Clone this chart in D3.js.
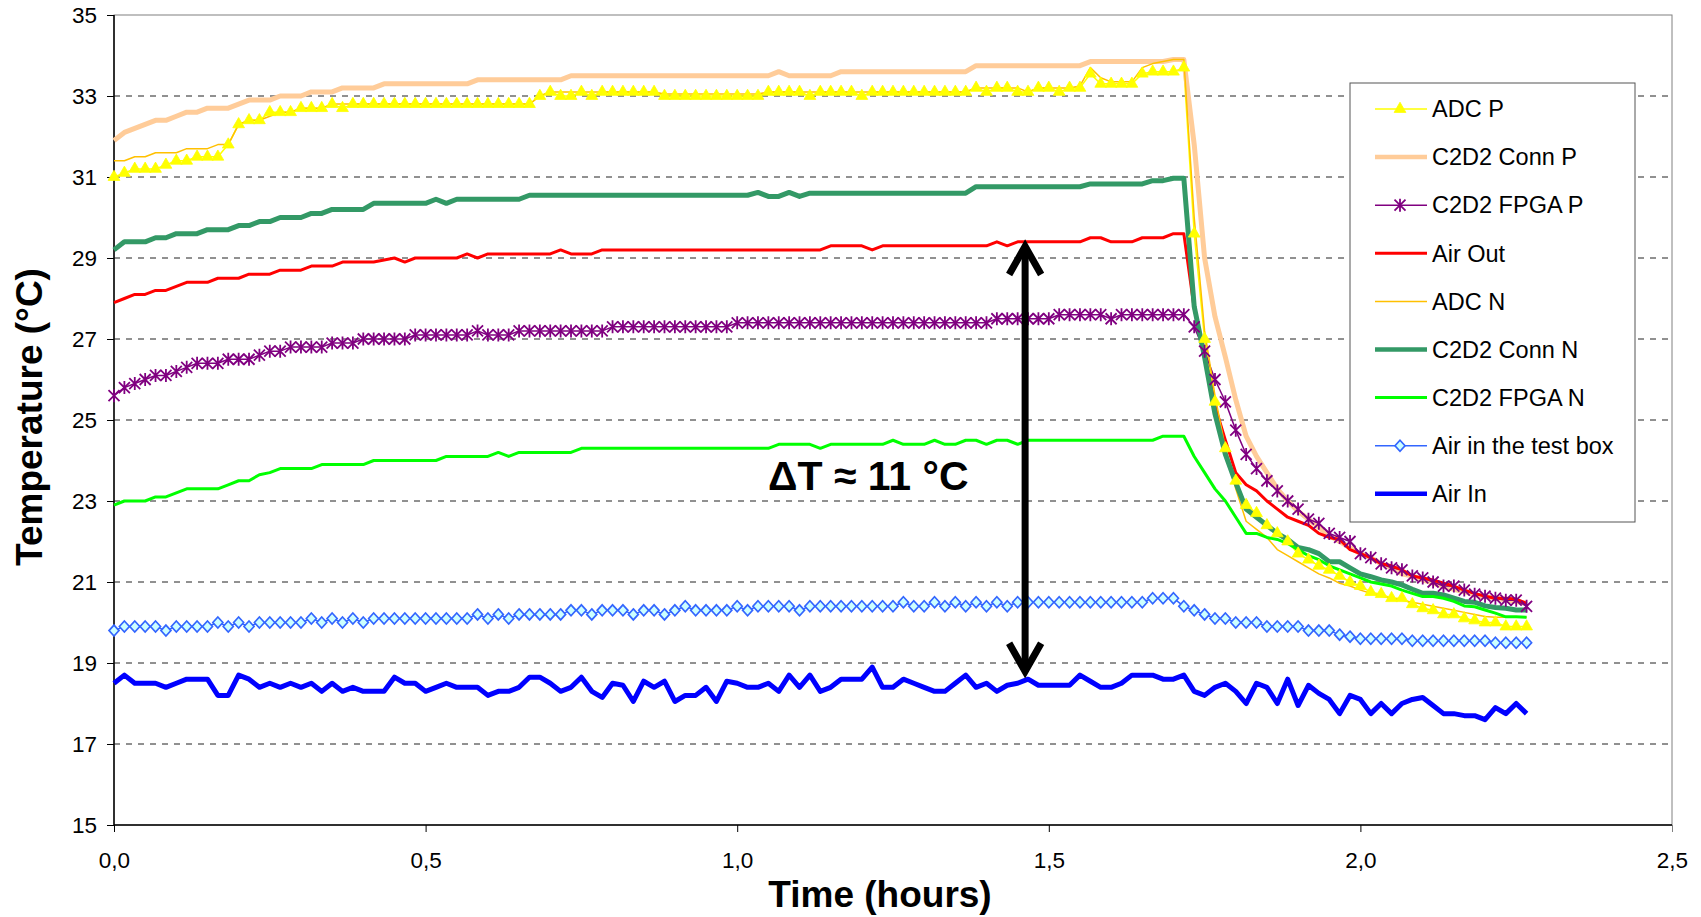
<!DOCTYPE html>
<html>
<head>
<meta charset="utf-8">
<script src="https://cdn.jsdelivr.net/npm/d3@7"></script>
<style>
  html, body { margin: 0; padding: 0; background: #fff; }
  svg { display: block; font-family: "Liberation Sans", Arial, sans-serif; }
</style>
</head>
<body>
<svg id="chart" width="1701" height="917"></svg>
<script>
// one reading per minute, 0 .. 136 min, plotted in hours
const minutes = d3.range(0, 137);
const hours = minutes.map(m => m / 60);

const adcP = [
  31.0,31.1,31.2,31.2,31.2,31.3,31.4,31.4,31.5,31.5,
  31.5,31.8,32.3,32.4,32.4,32.6,32.6,32.6,32.7,32.7,
  32.7,32.8,32.7,32.8,32.8,32.8,32.8,32.8,32.8,32.8,
  32.8,32.8,32.8,32.8,32.8,32.8,32.8,32.8,32.8,32.8,
  32.8,33.0,33.1,33.0,33.0,33.1,33.0,33.1,33.1,33.1,
  33.1,33.1,33.1,33.0,33.0,33.0,33.0,33.0,33.0,33.0,
  33.0,33.0,33.0,33.1,33.1,33.1,33.1,33.0,33.1,33.1,
  33.1,33.1,33.0,33.1,33.1,33.1,33.1,33.1,33.1,33.1,
  33.1,33.1,33.1,33.2,33.1,33.2,33.2,33.1,33.1,33.2,
  33.2,33.1,33.2,33.2,33.55,33.3,33.3,33.3,33.3,33.55,
  33.6,33.6,33.6,33.7,29.6,27.0,25.45,24.3,23.5,22.9,
  22.7,22.4,22.2,22.0,21.7,21.55,21.4,21.3,21.15,21.0,
  20.9,20.75,20.7,20.6,20.6,20.45,20.35,20.3,20.2,20.2,
  20.1,20.05,20.0,20.0,19.9,19.9,19.9
];

const connP = [
  31.9,32.1,32.2,32.3,32.4,32.4,32.5,32.6,32.6,32.7,
  32.7,32.7,32.8,32.9,32.9,32.9,33.0,33.0,33.0,33.1,
  33.1,33.1,33.2,33.2,33.2,33.2,33.3,33.3,33.3,33.3,
  33.3,33.3,33.3,33.3,33.3,33.4,33.4,33.4,33.4,33.4,
  33.4,33.4,33.4,33.4,33.5,33.5,33.5,33.5,33.5,33.5,
  33.5,33.5,33.5,33.5,33.5,33.5,33.5,33.5,33.5,33.5,
  33.5,33.5,33.5,33.5,33.6,33.5,33.5,33.5,33.5,33.5,
  33.6,33.6,33.6,33.6,33.6,33.6,33.6,33.6,33.6,33.6,
  33.6,33.6,33.6,33.75,33.75,33.75,33.75,33.75,33.75,33.75,
  33.75,33.75,33.75,33.75,33.85,33.85,33.85,33.85,33.85,33.85,
  33.85,33.85,33.9,33.9,31.8,29.0,27.55,26.55,25.5,24.6,
  24.1,23.7,23.3,23.0,22.75,22.55,22.35,22.15,22.0,21.85,
  21.7,21.6,21.45,21.35,21.2,21.15,21.05,20.97,20.9,20.82,
  20.76,20.68,20.64,20.6,20.56,20.52,20.47
];

const fpgaP = [
  25.6,25.8,25.9,26.0,26.1,26.1,26.2,26.3,26.4,26.4,
  26.4,26.5,26.5,26.5,26.6,26.7,26.7,26.8,26.8,26.8,
  26.8,26.9,26.9,26.9,27.0,27.0,27.0,27.0,27.0,27.1,
  27.1,27.1,27.1,27.1,27.1,27.2,27.1,27.1,27.1,27.2,
  27.2,27.2,27.2,27.2,27.2,27.2,27.2,27.2,27.3,27.3,
  27.3,27.3,27.3,27.3,27.3,27.3,27.3,27.3,27.3,27.3,
  27.4,27.4,27.4,27.4,27.4,27.4,27.4,27.4,27.4,27.4,
  27.4,27.4,27.4,27.4,27.4,27.4,27.4,27.4,27.4,27.4,
  27.4,27.4,27.4,27.4,27.4,27.5,27.5,27.5,27.5,27.5,
  27.5,27.6,27.6,27.6,27.6,27.6,27.5,27.6,27.6,27.6,
  27.6,27.6,27.6,27.6,27.3,26.7,26.0,25.45,24.75,24.15,
  23.8,23.5,23.25,23.0,22.8,22.55,22.45,22.2,22.1,22.0,
  21.7,21.6,21.45,21.35,21.3,21.15,21.1,21.0,20.9,20.9,
  20.8,20.7,20.65,20.6,20.55,20.55,20.4
];

const airOut = [
  27.9,28.0,28.1,28.1,28.2,28.2,28.3,28.4,28.4,28.4,
  28.5,28.5,28.5,28.6,28.6,28.6,28.7,28.7,28.7,28.8,
  28.8,28.8,28.9,28.9,28.9,28.9,28.95,29.0,28.9,29.0,
  29.0,29.0,29.0,29.0,29.1,29.0,29.1,29.1,29.1,29.1,
  29.1,29.1,29.1,29.2,29.1,29.1,29.1,29.2,29.2,29.2,
  29.2,29.2,29.2,29.2,29.2,29.2,29.2,29.2,29.2,29.2,
  29.2,29.2,29.2,29.2,29.2,29.2,29.2,29.2,29.2,29.3,
  29.3,29.3,29.3,29.2,29.3,29.3,29.3,29.3,29.3,29.3,
  29.3,29.3,29.3,29.3,29.3,29.4,29.3,29.4,29.4,29.4,
  29.4,29.4,29.4,29.4,29.5,29.5,29.4,29.4,29.4,29.5,
  29.5,29.5,29.6,29.6,27.75,26.6,25.35,24.5,23.7,23.4,
  23.25,23.0,22.8,22.6,22.5,22.4,22.2,22.1,22.05,21.8,
  21.7,21.6,21.45,21.4,21.3,21.15,21.1,21.05,20.97,20.9,
  20.8,20.72,20.65,20.6,20.6,20.58,20.47
];

const adcN = [
  31.4,31.4,31.5,31.5,31.6,31.6,31.6,31.7,31.7,31.7,
  31.8,31.8,32.3,32.4,32.4,32.5,32.6,32.6,32.7,32.7,
  32.7,32.8,32.8,32.8,32.8,32.8,32.8,32.8,32.8,32.8,
  32.8,32.8,32.8,32.8,32.8,32.8,32.8,32.8,32.8,32.8,
  32.8,33.0,33.1,33.1,33.1,33.1,33.1,33.1,33.1,33.1,
  33.1,33.1,33.1,33.05,33.05,33.05,33.05,33.05,33.05,33.05,
  33.05,33.05,33.05,33.1,33.1,33.1,33.1,33.1,33.1,33.1,
  33.1,33.1,33.1,33.1,33.1,33.1,33.1,33.1,33.1,33.1,
  33.1,33.1,33.1,33.2,33.2,33.2,33.2,33.2,33.1,33.2,
  33.2,33.2,33.2,33.25,33.7,33.45,33.35,33.35,33.35,33.7,
  33.8,33.85,33.9,33.9,30.0,27.2,25.6,24.3,23.3,22.5,
  22.3,22.1,21.8,21.65,21.5,21.35,21.2,21.1,20.97,20.9,
  20.8,20.72,20.65,20.6,20.55,20.5,20.45,20.4,20.35,20.3,
  20.25,20.2,20.15,20.13,20.13,20.13,20.13
];

const connN = [
  29.2,29.4,29.4,29.4,29.5,29.5,29.6,29.6,29.6,29.7,
  29.7,29.7,29.8,29.8,29.9,29.9,30.0,30.0,30.0,30.1,
  30.1,30.2,30.2,30.2,30.2,30.35,30.35,30.35,30.35,30.35,
  30.35,30.45,30.35,30.45,30.45,30.45,30.45,30.45,30.45,30.45,
  30.55,30.55,30.55,30.55,30.55,30.55,30.55,30.55,30.55,30.55,
  30.55,30.55,30.55,30.55,30.55,30.55,30.55,30.55,30.55,30.55,
  30.55,30.55,30.62,30.52,30.52,30.62,30.52,30.6,30.6,30.6,
  30.6,30.6,30.6,30.6,30.6,30.6,30.6,30.6,30.6,30.6,
  30.6,30.6,30.6,30.76,30.76,30.76,30.76,30.76,30.76,30.76,
  30.76,30.76,30.76,30.76,30.83,30.83,30.83,30.83,30.83,30.83,
  30.91,30.91,30.97,30.97,27.8,26.55,25.15,24.15,23.45,22.8,
  22.6,22.4,22.2,22.05,21.85,21.8,21.7,21.5,21.5,21.35,
  21.2,21.13,21.05,21.0,20.93,20.82,20.72,20.72,20.68,20.6,
  20.52,20.5,20.41,20.37,20.35,20.31,20.31
];

const fpgaN = [
  22.9,23.0,23.0,23.0,23.1,23.1,23.2,23.3,23.3,23.3,
  23.3,23.4,23.5,23.5,23.65,23.7,23.8,23.8,23.8,23.8,
  23.9,23.9,23.9,23.9,23.9,24.0,24.0,24.0,24.0,24.0,
  24.0,24.0,24.1,24.1,24.1,24.1,24.1,24.2,24.1,24.2,
  24.2,24.2,24.2,24.2,24.2,24.3,24.3,24.3,24.3,24.3,
  24.3,24.3,24.3,24.3,24.3,24.3,24.3,24.3,24.3,24.3,
  24.3,24.3,24.3,24.3,24.4,24.4,24.4,24.4,24.3,24.4,
  24.4,24.4,24.4,24.4,24.4,24.5,24.4,24.4,24.4,24.5,
  24.4,24.4,24.5,24.5,24.4,24.5,24.5,24.4,24.5,24.5,
  24.5,24.5,24.5,24.5,24.5,24.5,24.5,24.5,24.5,24.5,
  24.5,24.6,24.6,24.6,24.1,23.7,23.3,23.0,22.6,22.2,
  22.2,22.1,22.05,21.95,21.8,21.65,21.55,21.4,21.3,21.2,
  21.1,21.0,20.95,20.9,20.8,20.72,20.64,20.64,20.6,20.52,
  20.41,20.39,20.31,20.23,20.14,20.14,20.13
];

const airBox = [
  19.8,19.9,19.9,19.9,19.9,19.8,19.9,19.9,19.9,19.9,
  20.0,19.9,20.0,19.9,20.0,20.0,20.0,20.0,20.0,20.1,
  20.0,20.1,20.0,20.1,20.0,20.1,20.1,20.1,20.1,20.1,
  20.1,20.1,20.1,20.1,20.1,20.2,20.1,20.2,20.1,20.2,
  20.2,20.2,20.2,20.2,20.3,20.3,20.2,20.3,20.3,20.3,
  20.2,20.3,20.3,20.2,20.3,20.4,20.3,20.3,20.3,20.3,
  20.4,20.3,20.4,20.4,20.4,20.4,20.3,20.4,20.4,20.4,
  20.4,20.4,20.4,20.4,20.4,20.4,20.5,20.4,20.4,20.5,
  20.4,20.5,20.4,20.5,20.4,20.5,20.4,20.5,20.5,20.5,
  20.5,20.5,20.5,20.5,20.5,20.5,20.5,20.5,20.5,20.5,
  20.6,20.6,20.6,20.4,20.3,20.2,20.1,20.1,20.0,20.0,
  20.0,19.9,19.9,19.9,19.9,19.8,19.8,19.8,19.7,19.65,
  19.6,19.6,19.6,19.6,19.6,19.55,19.55,19.55,19.55,19.55,
  19.55,19.55,19.55,19.5,19.5,19.5,19.5
];

const airIn = [
  18.5,18.7,18.5,18.5,18.5,18.4,18.5,18.6,18.6,18.6,
  18.2,18.2,18.7,18.6,18.4,18.5,18.4,18.5,18.4,18.5,
  18.3,18.5,18.3,18.4,18.3,18.3,18.3,18.65,18.5,18.5,
  18.3,18.4,18.5,18.4,18.4,18.4,18.2,18.3,18.3,18.4,
  18.65,18.65,18.5,18.3,18.4,18.65,18.3,18.15,18.5,18.45,
  18.05,18.55,18.4,18.55,18.05,18.2,18.2,18.4,18.05,18.55,
  18.5,18.4,18.4,18.5,18.3,18.7,18.4,18.7,18.3,18.4,
  18.6,18.6,18.6,18.9,18.4,18.4,18.6,18.5,18.4,18.3,
  18.3,18.5,18.7,18.4,18.5,18.3,18.45,18.5,18.6,18.45,
  18.45,18.45,18.45,18.7,18.55,18.4,18.4,18.5,18.7,18.7,
  18.7,18.6,18.6,18.7,18.3,18.2,18.4,18.5,18.3,18.0,
  18.5,18.4,18.0,18.6,17.95,18.45,18.25,18.1,17.75,18.2,
  18.1,17.75,18.0,17.75,18.0,18.1,18.15,17.95,17.75,17.75,
  17.7,17.7,17.6,17.9,17.75,18.0,17.75
];

const xTicks = [0, 0.5, 1.0, 1.5, 2.0, 2.5];
const yTicks = [15, 17, 19, 21, 23, 25, 27, 29, 31, 33, 35];

// double arrow between Air Out and Air In
const deltaLabel = 'ΔT ≈ 11 °C';
const arrowTime = 1.462;
const arrowTop = 29.36;
const arrowBottom = 18.72;

const series = [
  { name: 'ADC P', values: adcP, color: '#FFFF00', width: 1.5, marker: 'triangle' },
  { name: 'C2D2 Conn P', values: connP, color: '#FFCC99', width: 5 },
  { name: 'C2D2 FPGA P', values: fpgaP, color: '#800080', width: 1.5, marker: 'star' },
  { name: 'Air Out', values: airOut, color: '#FF0000', width: 3 },
  { name: 'ADC N', values: adcN, color: '#FFC000', width: 1.5 },
  { name: 'C2D2 Conn N', values: connN, color: '#339966', width: 5 },
  { name: 'C2D2 FPGA N', values: fpgaN, color: '#00FF00', width: 3 },
  { name: 'Air in the test box', values: airBox, color: '#3366FF', width: 1.5, marker: 'diamond' },
  { name: 'Air In', values: airIn, color: '#0000FF', width: 5 }
];

const svg = d3.select('#chart');
const plotLeft = 114, plotRight = 1672, plotTop = 15, plotBottom = 825;

const x = d3.scaleLinear().domain([0, 2.5]).range([plotLeft, plotRight]);
const y = d3.scaleLinear().domain([15, 35]).range([plotBottom, plotTop]);

// grid
svg.append('g')
  .selectAll('line')
  .data(yTicks.filter(t => t !== 15 && t !== 35))
  .join('line')
  .attr('x1', plotLeft).attr('x2', plotRight)
  .attr('y1', d => y(d)).attr('y2', d => y(d))
  .attr('stroke', '#222')
  .attr('stroke-width', 1)
  .attr('stroke-dasharray', '6,6');

svg.append('rect')
  .attr('x', plotLeft).attr('y', plotTop)
  .attr('width', plotRight - plotLeft).attr('height', plotBottom - plotTop)
  .attr('fill', 'none')
  .attr('stroke', '#808080');

const yAxis = svg.append('g')
  .attr('transform', `translate(${plotLeft},0)`)
  .call(d3.axisLeft(y).tickValues(yTicks).tickSize(7).tickPadding(10).tickFormat(d3.format('d')));

const xAxis = svg.append('g')
  .attr('transform', `translate(0,${plotBottom})`)
  .call(d3.axisBottom(x).tickValues(xTicks).tickSize(7).tickPadding(20)
    .tickFormat(d => d.toFixed(1).replace('.', ',')));

[yAxis, xAxis].forEach(g => {
  g.select('.domain').attr('stroke', '#000').attr('stroke-width', 1.5);
  g.selectAll('.tick line').attr('stroke', '#000');
  g.selectAll('.tick text').attr('font-size', 22.5).attr('fill', '#000')
    .attr('font-family', '"Liberation Sans", Arial, sans-serif');
});
yAxis.select('.domain').attr('d', `M0,${plotBottom}V${plotTop}`);
xAxis.select('.domain').attr('d', `M${plotLeft},0H${plotRight}`);
xAxis.selectAll('.tick').filter(d => d === 2.5).select('line').attr('stroke', '#808080');

// lines
const line = d3.line()
  .x((d, i) => x(hours[i]))
  .y(d => y(d));

const plot = svg.append('g');
series.forEach(s => {
  plot.append('path')
    .attr('d', line(s.values))
    .attr('fill', 'none')
    .attr('stroke', s.color)
    .attr('stroke-width', s.width)
    .attr('stroke-linejoin', 'round');
});

const triPath = d3.symbol().type(d3.symbolTriangle).size(60)();
const starPath = 'M-5.5,-5.5L5.5,5.5M-5.5,5.5L5.5,-5.5M0,-6.5L0,6.5';
const diamondPath = 'M0,-5.5L5,0L0,5.5L-5,0Z';

function drawMarker(g, s) {
  if (s.marker === 'triangle') {
    g.append('path').attr('d', triPath).attr('fill', s.color).attr('stroke', s.color).attr('stroke-width', 0.8);
  } else if (s.marker === 'star') {
    g.append('path').attr('d', starPath).attr('fill', 'none').attr('stroke', s.color).attr('stroke-width', 1.8);
  } else if (s.marker === 'diamond') {
    g.append('path').attr('d', diamondPath).attr('fill', '#CCFFFF').attr('stroke', s.color).attr('stroke-width', 1.7);
  }
}

series.filter(s => s.marker).forEach(s => {
  plot.append('g')
    .selectAll('g')
    .data(s.values)
    .join('g')
    .attr('transform', (d, i) => `translate(${x(hours[i])},${y(d)})`)
    .each(function () { drawMarker(d3.select(this), s); });
});

// annotation arrow
const arrowX = x(arrowTime);
const yt = y(arrowTop), yb = y(arrowBottom);
const arrow = svg.append('g').attr('stroke', '#000').attr('fill', 'none')
  .attr('stroke-width', 7).attr('stroke-linejoin', 'miter');
arrow.append('line').attr('x1', arrowX).attr('x2', arrowX).attr('y1', yt + 4).attr('y2', yb - 4);
arrow.append('path').attr('d', `M${arrowX - 16},${yt + 31}L${arrowX},${yt + 3}L${arrowX + 16},${yt + 31}`);
arrow.append('path').attr('d', `M${arrowX - 16},${yb - 31}L${arrowX},${yb - 3}L${arrowX + 16},${yb - 31}`);

svg.append('text')
  .attr('x', 768).attr('y', 490)
  .attr('font-size', 41).attr('font-weight', 'bold')
  .text(deltaLabel);

// axis titles
svg.append('text')
  .attr('transform', `translate(42,417) rotate(-90)`)
  .attr('text-anchor', 'middle')
  .attr('font-size', 37).attr('font-weight', 'bold')
  .text('Temperature (°C)');

svg.append('text')
  .attr('x', 880).attr('y', 907)
  .attr('text-anchor', 'middle')
  .attr('font-size', 37).attr('font-weight', 'bold')
  .text('Time (hours)');

// legend
const legend = svg.append('g');
legend.append('rect')
  .attr('x', 1350).attr('y', 83)
  .attr('width', 285).attr('height', 439)
  .attr('fill', '#fff').attr('stroke', '#555');

series.forEach((s, i) => {
  const ly = 109 + i * 48.1;
  const g = legend.append('g');
  g.append('line')
    .attr('x1', 1375).attr('x2', 1427)
    .attr('y1', ly).attr('y2', ly)
    .attr('stroke', s.color).attr('stroke-width', Math.min(s.width, 4.5));
  if (s.marker) {
    const m = g.append('g').attr('transform', `translate(1400,${ly})`);
    drawMarker(m, s);
  }
  g.append('text')
    .attr('x', 1432).attr('y', ly)
    .attr('dy', '0.35em')
    .attr('font-size', 23.5)
    .text(s.name);
});
</script>
</body>
</html>
